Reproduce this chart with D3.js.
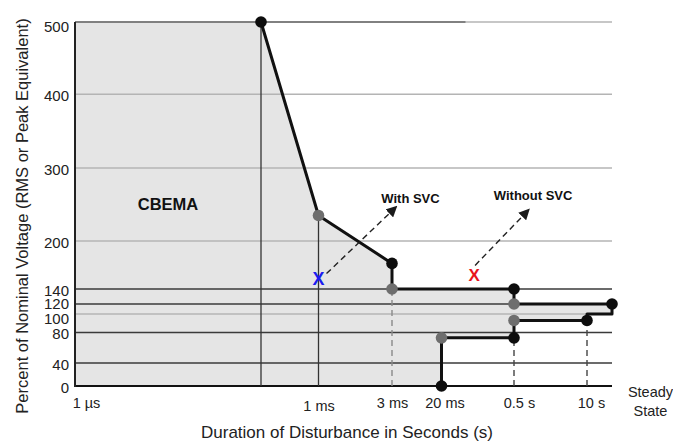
<!DOCTYPE html>
<html>
<head>
<meta charset="utf-8">
<script src="https://cdn.jsdelivr.net/npm/d3@7"></script>
<style>
  body { margin: 0; background: #fff; }
  svg { display: block; font-family: "Liberation Sans", Arial, sans-serif; }
</style>
</head>
<body>
<svg id="chart" width="673" height="448"></svg>
<script>
// ---------- data ----------
const voltTicks = [0, 40, 80, 100, 120, 140, 200, 300, 400, 500];
const timeTicks = [1e-6, 1e-3, 3e-3, 0.02, 0.5, 10, 100];
const timeLabels = ["1 µs", "1 ms", "3 ms", "20 ms", "0.5 s", "10 s", "Steady State"];

// upper (overvoltage) boundary: times (s) and percent values
const upperTimes  = [1e-4, 1e-3, 3e-3, 3e-3, 0.5, 0.5, 30];
const upperValues = [500, 235, 172, 140, 140, 120, 120];
// lower (undervoltage) boundary
const lowerTimes  = [0.02, 0.02, 0.5, 0.5, 10, 10, 30, 30];
const lowerValues = [0, 73, 73, 93, 93, 100, 100, 120];

// marker dots: black and grey
const blackDotTimes  = [1e-4, 3e-3, 0.5, 30, 0.02, 0.5, 10];
const blackDotValues = [500, 172, 140, 120, 0, 73, 93];
const greyDotTimes   = [1e-3, 3e-3, 0.5, 0.02, 0.5];
const greyDotValues  = [235, 140, 120, 73, 93];

// disturbance events
const eventNames  = ["With SVC", "Without SVC"];
const eventTimes  = [1e-3, 0.085];
const eventValues = [153, 157];
const eventColors = ["#1c1cf0", "#e8141c"];

// horizontal reference lines
const darkLines  = [0, 40, 80, 120, 140];
const lightLines = [100, 200, 300, 400, 500];

const plotStart = 5e-7, plotEnd = 30;

// ---------- scales ----------
const svg = d3.select("#chart");
const x = d3.scaleLog()
  .domain([plotStart, 1e-6, 1e-4, 1e-3, 3e-3, 0.02, 0.5, 10, plotEnd, 100])
  .range([75, 86, 261, 318.5, 392, 441.5, 514, 587, 612, 650]);
const y = d3.scaleLinear()
  .domain(voltTicks)
  .range([386, 363, 332.5, 314, 304, 289, 241, 168, 94.3, 22]);

const line = d3.line().x(d => x(d[0])).y(d => y(d[1]));
const upper = upperTimes.map((t, i) => [t, upperValues[i]]);
const lower = lowerTimes.map((t, i) => [t, lowerValues[i]]);

// ---------- shaded CBEMA region ----------
const region = [[plotStart, 0], [plotStart, 500]]
  .concat(upper)
  .concat(lower.slice().reverse());
svg.append("path")
  .attr("d", line(region) + "Z")
  .attr("fill", "#e5e5e5");

// ---------- grid lines ----------
const g = svg.append("g");
g.selectAll("line.light").data(lightLines).join("line")
  .attr("x1", x(plotStart)).attr("x2", x(plotEnd))
  .attr("y1", d => y(d)).attr("y2", d => y(d))
  .attr("stroke", "#b4b4b4").attr("stroke-width", 1.4);
// darker part of top line
g.append("line")
  .attr("x1", x(plotStart)).attr("x2", x(0.058))
  .attr("y1", y(500)).attr("y2", y(500))
  .attr("stroke", "#6a6a6a").attr("stroke-width", 1.6);
g.selectAll("line.dark").data(darkLines).join("line")
  .attr("x1", x(plotStart)).attr("x2", x(plotEnd))
  .attr("y1", d => y(d)).attr("y2", d => y(d))
  .attr("stroke", d => d === 0 ? "#111" : "#3a3a3a")
  .attr("stroke-width", d => d === 0 ? 2.2 : 1.5);

// left axis line
g.append("line")
  .attr("x1", x(plotStart)).attr("x2", x(plotStart))
  .attr("y1", y(0) + 1).attr("y2", y(500))
  .attr("stroke", "#222").attr("stroke-width", 2);

// solid verticals
g.append("line").attr("x1", x(1e-4)).attr("x2", x(1e-4))
  .attr("y1", y(0)).attr("y2", y(500)).attr("stroke", "#333").attr("stroke-width", 1.3);
g.append("line").attr("x1", x(1e-3)).attr("x2", x(1e-3))
  .attr("y1", y(0)).attr("y2", y(235)).attr("stroke", "#333").attr("stroke-width", 1.3);

// dashed verticals
const dashed = [[3e-3, 140, "#8a8a8a"], [0.5, 73, "#444"], [10, 93, "#444"]];
g.selectAll("line.dash").data(dashed).join("line")
  .attr("x1", d => x(d[0])).attr("x2", d => x(d[0]))
  .attr("y1", y(0)).attr("y2", d => y(d[1]))
  .attr("stroke", d => d[2]).attr("stroke-width", 1.4)
  .attr("stroke-dasharray", "6,4");

// ---------- curves ----------
svg.append("path").attr("d", line(upper))
  .attr("fill", "none").attr("stroke", "#111").attr("stroke-width", 3)
  .attr("stroke-linejoin", "round");
svg.append("path").attr("d", line(lower))
  .attr("fill", "none").attr("stroke", "#111").attr("stroke-width", 3)
  .attr("stroke-linejoin", "round");

// dots
svg.selectAll("circle.black").data(blackDotTimes).join("circle")
  .attr("cx", d => x(d)).attr("cy", (d, i) => y(blackDotValues[i]))
  .attr("r", 5.8).attr("fill", "#0d0d0d");
svg.selectAll("circle.grey").data(greyDotTimes).join("circle")
  .attr("cx", d => x(d)).attr("cy", (d, i) => y(greyDotValues[i]))
  .attr("r", 5.8).attr("fill", "#6e6e6e");

// ---------- events and arrows ----------
const defs = svg.append("defs");
defs.append("marker").attr("id", "arr")
  .attr("viewBox", "0 0 10 10").attr("refX", 9).attr("refY", 5)
  .attr("markerWidth", 11).attr("markerHeight", 11)
  .attr("markerUnits", "userSpaceOnUse").attr("orient", "auto")
  .append("path").attr("d", "M0,0 L10,5 L0,10 Z").attr("fill", "#1a1a1a");

const arrowOff = [[8, -5, 78, -72], [1, -10, 55, -66]];
const labelOff = [[92, -80], [59, -80]];
eventTimes.forEach((t, i) => {
  const px = x(t), py = y(eventValues[i]);
  const o = arrowOff[i];
  svg.append("line")
    .attr("x1", px + o[0]).attr("y1", py + o[1])
    .attr("x2", px + o[2]).attr("y2", py + o[3])
    .attr("stroke", "#222").attr("stroke-width", 1.4)
    .attr("stroke-dasharray", "6,4").attr("marker-end", "url(#arr)");
  svg.append("text")
    .attr("x", px).attr("y", py)
    .attr("text-anchor", "middle").attr("dominant-baseline", "central")
    .attr("font-size", i === 0 ? 18 : 17).attr("font-weight", "bold")
    .attr("fill", eventColors[i]).text("X");
  svg.append("text")
    .attr("x", px + labelOff[i][0]).attr("y", py + labelOff[i][1])
    .attr("text-anchor", "middle").attr("dominant-baseline", "central")
    .attr("font-size", 13).attr("font-weight", "bold").attr("fill", "#111")
    .text(eventNames[i]);
});

// CBEMA label
svg.append("text").attr("x", 168).attr("y", 204)
  .attr("text-anchor", "middle").attr("dominant-baseline", "central")
  .attr("font-size", 16.5).attr("font-weight", "bold").attr("fill", "#111")
  .text("CBEMA");

// ---------- axes ----------
const yAxis = svg.append("g").attr("transform", `translate(${x(plotStart)},0)`)
  .call(d3.axisLeft(y).tickValues(voltTicks).tickSize(0).tickPadding(6));
yAxis.select(".domain").remove();
yAxis.selectAll("text")
  .attr("font-size", 15).attr("fill", "#222")
  .attr("font-family", "Liberation Sans, Arial, sans-serif")
  .attr("dy", d => d === 500 ? "0.62em" : d === 100 ? "0.62em" : d === 120 ? "0.3em" : "0.42em");

const xAxis = svg.append("g").attr("transform", `translate(0,${y(0)})`)
  .call(d3.axisBottom(x).tickValues(timeTicks).tickSize(0)
    .tickFormat((d, i) => timeLabels[i]));
xAxis.select(".domain").remove();
const dxMap = {0.02: 3, 0.5: 5, 10: 4};
xAxis.selectAll("text")
  .attr("font-size", 14.5).attr("fill", "#222")
  .attr("font-family", "Liberation Sans, Arial, sans-serif")
  .attr("dx", d => dxMap[d] || 0)
  .attr("y", d => d === 1e-3 ? 20 : 17)
  .attr("dy", "0.35em")
  .each(function(d, i) {
    const lbl = timeLabels[i];
    if (lbl.indexOf(" ") > 0 && d === 100) {
      const el = d3.select(this);
      const parts = lbl.split(" ");
      el.text(null).attr("y", 0).attr("dy", null);
      el.append("tspan").attr("x", 0).attr("y", 6).attr("dy", "0.35em").text(parts[0]);
      el.append("tspan").attr("x", 0).attr("y", 25).attr("dy", "0.35em").text(parts[1]);
    }
  });

// axis titles
svg.append("text")
  .attr("transform", "translate(22,216) rotate(-90)")
  .attr("text-anchor", "middle").attr("dominant-baseline", "central")
  .attr("font-size", 16.5).attr("fill", "#222")
  .text("Percent of Nominal Voltage (RMS or Peak Equivalent)");
svg.append("text")
  .attr("x", 347).attr("y", 432)
  .attr("text-anchor", "middle").attr("dominant-baseline", "central")
  .attr("font-size", 17).attr("fill", "#222")
  .text("Duration of Disturbance in Seconds (s)");
</script>
</body>
</html>
